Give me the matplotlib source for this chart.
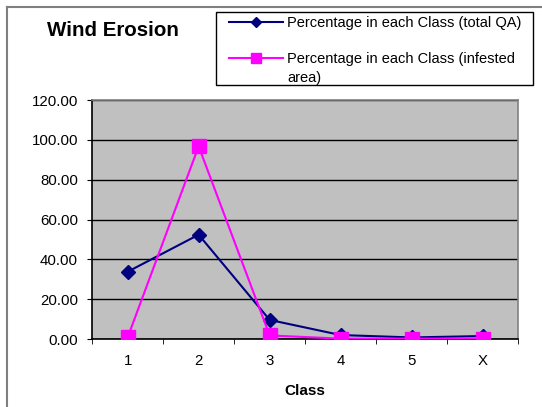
#!/usr/bin/env python

import matplotlib
matplotlib.use("Agg")
import matplotlib.pyplot as plt
from matplotlib.patches import Rectangle
import numpy as np

categories = ["1", "2", "3", "4", "5", "X"]
total_qa = [33.8, 52.4, 9.6, 2.0, 0.8, 1.5]
infested = [0.8, 96.8, 1.8, 0.2, 0.2, 0.2]
yticks = [0, 20, 40, 60, 80, 100, 120]


def main():
    plt.rcParams.update(
        {
            "font.family": ["Liberation Sans", "DejaVu Sans"],
            "font.size": 10.5,
        }
    )

    fig = plt.figure(figsize=(5.42, 4.07), dpi=100)
    ax = fig.add_axes((0.170, 0.167, 0.786, 0.587))
    ax.set_facecolor("#c0c0c0")

    x = np.arange(len(categories))
    ax.plot(x, total_qa, color="#000080", marker="D", markersize=7,
            linewidth=1.5, label="Percentage in each Class (total QA)", zorder=3)
    ax.plot(x, infested, color="#ff00ff", marker="s", markersize=10,
            linewidth=1.5, label="Percentage in each Class (infested", zorder=4)

    ax.set_xlim(-0.5, len(categories) - 0.5)
    ax.set_ylim(0, 120)
    ax.set_yticks(yticks)
    ax.set_yticklabels([f"{v:.2f}" for v in yticks], fontsize=10.8)
    ax.set_xticks(x)
    ax.set_xticklabels(categories, fontsize=10.8)
    ax.set_xticks(np.arange(len(categories) + 1) - 0.5, minor=True)
    ax.tick_params(axis="x", which="major", length=0, pad=11)
    ax.tick_params(axis="x", which="minor", length=3.6, direction="out", color="black")
    ax.tick_params(axis="y", length=3.6, direction="out", color="black", pad=6.5)
    ax.yaxis.grid(True, color="black", linewidth=1)
    ax.set_axisbelow(True)

    ax.spines["top"].set_color("#808080")
    ax.spines["right"].set_color("#808080")
    ax.spines["left"].set_color("black")
    ax.spines["bottom"].set_color("black")
    for s in ax.spines.values():
        s.set_linewidth(1.2)

    ax.set_xlabel("Class", fontweight="bold", fontsize=11, labelpad=11.5)
    fig.text(0.208, 0.926, "Wind Erosion", fontsize=14.8, fontweight="bold",
             ha="center", va="center")

    # legend without frame, box drawn separately like the Excel chart
    leg = fig.legend(loc="upper left", bbox_to_anchor=(0.4225, 0.961),
                     frameon=False, borderpad=0, labelspacing=1.5,
                     handlelength=3.7, handletextpad=0.27, borderaxespad=0,
                     markerscale=0.7, fontsize=10.5)
    fig.text(287 / 542, 1 - 78 / 407, "area)", fontsize=10.5,
             ha="left", va="center")
    fig.add_artist(Rectangle((216 / 542, 1 - 85 / 407), 317 / 542, 73 / 407,
                             transform=fig.transFigure, fill=False,
                             edgecolor="black", linewidth=1.0))

    # outer chart border
    fig.add_artist(plt.Line2D([0.013, 0.013], [0, 0.983], color="#808080",
                              linewidth=1.5, transform=fig.transFigure))
    fig.add_artist(plt.Line2D([0.013, 1.0], [0.983, 0.983], color="#808080",
                              linewidth=1.5, transform=fig.transFigure))

    fig.savefig("out.png", dpi=100)


if __name__ == "__main__":
    main()
